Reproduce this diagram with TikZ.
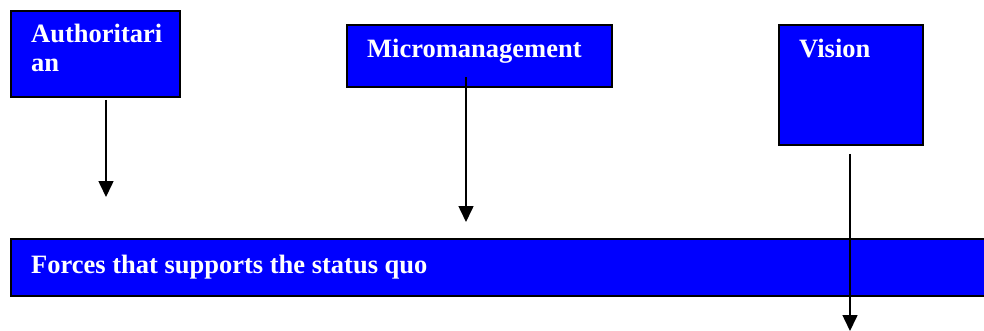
\documentclass[tikz,border=0pt]{standalone}
\usepackage{fontspec}
\setmainfont{Liberation Serif}
\usetikzlibrary{positioning,arrows.meta}

\begin{document}
\begin{tikzpicture}[x=1pt, y=1pt,
  fbox/.style={draw=black, fill=blue, line width=1.8pt,
               anchor=north west, inner sep=0pt},
  ftxt/.style={text=white, font=\fontsize{26.5}{29}\selectfont\bfseries,
               anchor=base west, align=left, inner sep=0pt},
  arr/.style={-{Triangle[length=16pt,width=15pt]}, line width=1.6pt}
]
\useasboundingbox (0,0) rectangle (984,-331);
\clip (0,0) rectangle (984,-331);

% boxes
\node[fbox, minimum width=169, minimum height=86]  (auth)  at (10,-10)  {};
\node[fbox, minimum width=265, minimum height=62]  (micro) at (346,-24) {};
\node[fbox, minimum width=144, minimum height=120] (vis)   at (778,-24) {};
\node[fbox, minimum width=1000, minimum height=57] (quo)   at (10,-238) {};

% texts (base is the last line of a wrapped text)
\node[ftxt] (auth-t)  at ([shift={(21,-62)}]auth.north west)  {Authoritari\\an};
\node[ftxt] (micro-t) at ([shift={(21,-34)}]micro.north west) {Micromanagement};
\node[ftxt] (vis-t)   at ([shift={(21,-34)}]vis.north west)   {Vision};
\node[ftxt] (quo-t)   at ([shift={(21,-35)}]quo.north west)   {Forces that supports the status quo};

% arrows
\coordinate (auth-s)  at (106,-100);
\coordinate (auth-e)  at (106,-197);
\coordinate (micro-s) at (466,-77);
\coordinate (micro-e) at (466,-222);
\coordinate (vis-s)   at (850,-154);
\coordinate (vis-e)   at (850,-331);

\draw[arr] (auth-s)  -- (auth-e);
\draw[arr] (micro-s) -- (micro-e);
\draw[arr] (vis-s)   -- (vis-e);

\end{tikzpicture}
\end{document}
